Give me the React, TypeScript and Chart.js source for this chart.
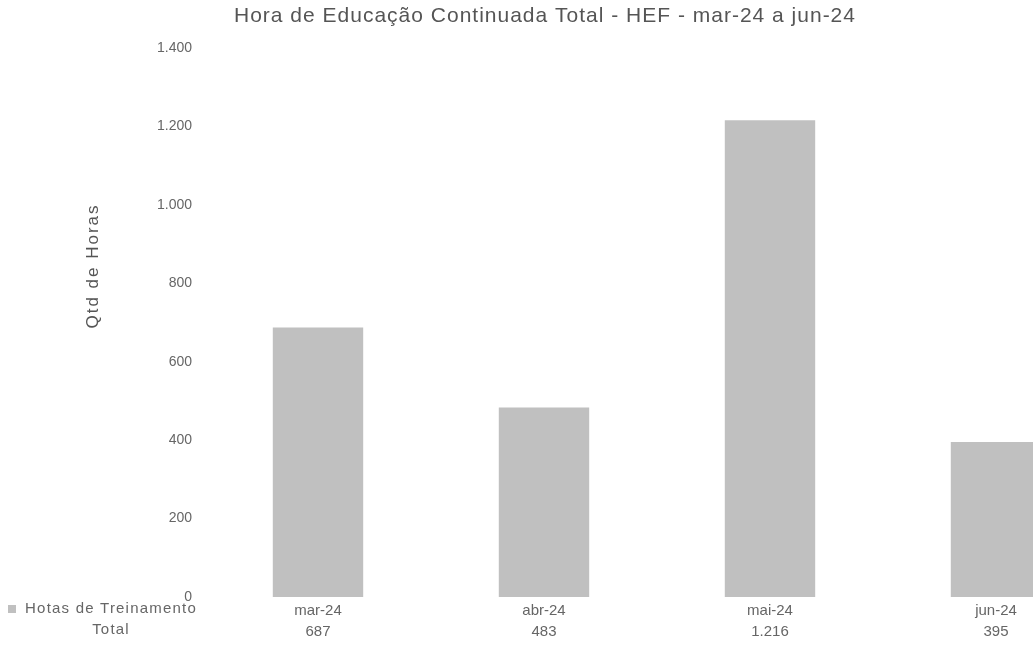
import React, { useEffect, useRef } from 'react';
import { Chart, registerables } from 'chart.js';

Chart.register(...registerables);

// ---- Data ----
const TITLE = 'Hora de Educação Continuada Total - HEF - mar-24 a jun-24';
const Y_TITLE = 'Qtd de Horas';
const SERIES_NAME_LINES = ['Hotas de Treinamento', 'Total'];
const categories = ['mar-24', 'abr-24', 'mai-24', 'jun-24'];
const hours = [687, 483, 1216, 395];
const Y_MIN = 0;
const Y_MAX = 1400;
const Y_STEP = 200;

// ---- Style ----
const FONT = '"Liberation Sans", Arial, Helvetica, sans-serif';
const TEXT = '#555555';
const TICK = '#666666';
const BAR = '#c0c0c0';

const fmt = (v: number) => String(Math.round(v)).replace(/\B(?=(\d{3})+(?!\d))/g, '.');

const overlay = {
  id: 'overlay',
  afterDraw(chart: any) {
    const ctx = chart.ctx as CanvasRenderingContext2D;
    // Title
    ctx.save();
    ctx.fillStyle = TEXT;
    ctx.textAlign = 'center';
    ctx.textBaseline = 'middle';
    (ctx as any).letterSpacing = '1px';
    ctx.font = `21px ${FONT}`;
    ctx.fillText(TITLE, 545, 16);
    ctx.restore();

    // Y axis title
    ctx.save();
    ctx.fillStyle = TEXT;
    ctx.textAlign = 'center';
    ctx.textBaseline = 'middle';
    (ctx as any).letterSpacing = '2px';
    ctx.font = `17px ${FONT}`;
    ctx.translate(93, 266);
    ctx.rotate(-Math.PI / 2);
    ctx.fillText(Y_TITLE, 0, 0);
    ctx.restore();

    // Data-table legend
    const xs = chart.scales.x;
    const rowY = xs.top + 12;
    ctx.save();
    ctx.fillStyle = BAR;
    ctx.fillRect(8, rowY - 4, 8, 8);
    ctx.fillStyle = TICK;
    ctx.textAlign = 'center';
    ctx.textBaseline = 'middle';
    (ctx as any).letterSpacing = '1.2px';
    ctx.font = `15px ${FONT}`;
    SERIES_NAME_LINES.forEach((line, i) => {
      ctx.fillText(line, 111, rowY + i * 21);
    });
    ctx.restore();
  },
};

export default function App() {
  const ref = useRef<HTMLCanvasElement | null>(null);

  useEffect(() => {
    if (!ref.current) return;
    const chart = new Chart(ref.current, {
      type: 'bar',
      data: {
        labels: categories.map((c, i) => [c, fmt(hours[i])]),
        datasets: [
          {
            label: SERIES_NAME_LINES.join(' '),
            data: hours,
            backgroundColor: BAR,
            borderWidth: 0,
            categoryPercentage: 1,
            barPercentage: 0.4,
          },
        ],
      },
      options: {
        responsive: false,
        animation: false,
        layout: { padding: { top: 48, right: 11, bottom: 0, left: 0 } },
        plugins: {
          legend: { display: false },
          title: { display: false },
          tooltip: { enabled: false },
        },
        scales: {
          x: {
            grid: { display: false, drawTicks: false },
            border: { display: false },
            ticks: {
              color: TICK,
              font: { family: FONT, size: 15, lineHeight: 1.4 },
              padding: 3,
              maxRotation: 0,
              autoSkip: false,
            },
            afterFit: (s: any) => {
              s.height = 69;
            },
          },
          y: {
            min: Y_MIN,
            max: Y_MAX,
            grid: { display: false, drawTicks: false },
            border: { display: false },
            ticks: {
              stepSize: Y_STEP,
              color: TICK,
              font: { family: FONT, size: 14 },
              padding: 13,
              callback: (v: any) => fmt(Number(v)),
            },
            afterFit: (s: any) => {
              s.width = 205;
            },
          },
        },
      },
      plugins: [overlay],
    });
    return () => chart.destroy();
  }, []);

  return (
    <div
      style={{
        position: 'fixed',
        left: 0,
        top: 0,
        width: 1033,
        height: 666,
        overflow: 'hidden',
        background: '#fff',
      }}
    >
      <canvas ref={ref} width={1120} height={666} style={{ display: 'block' }} />
    </div>
  );
}
